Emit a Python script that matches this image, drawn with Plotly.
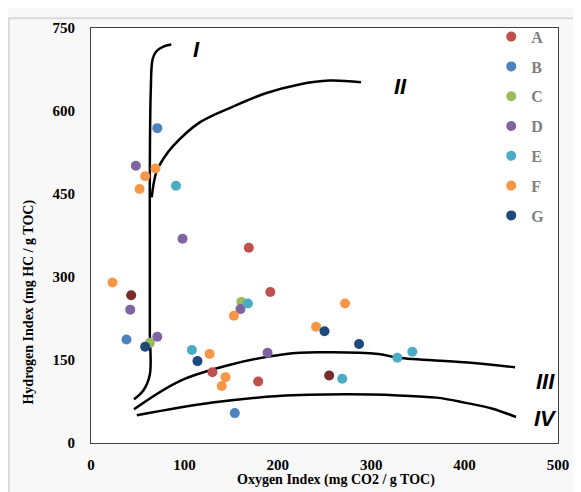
import plotly.graph_objects as go

# ---- data ----
series_names = ["A", "B", "C", "D", "E", "F", "G"]
series_colors = ["#C0504D", "#4F81BD", "#9BBB59", "#8064A2", "#4BACC6", "#F79646", "#1F497D"]

A_oi = [169, 192, 130, 179]
A_hi = [353, 273, 128, 111]
B_oi = [71, 38, 154]
B_hi = [569, 187, 54]
C_oi = [161, 63]
C_hi = [255, 181]
D_oi = [48, 98, 42, 160, 71, 189]
D_hi = [501, 369, 241, 242, 192, 163]
E_oi = [91, 168, 108, 269, 328, 344]
E_hi = [465, 252, 168, 116, 154, 165]
F_oi = [69, 58, 52, 23, 153, 272, 241, 127, 144, 140]
F_hi = [496, 482, 459, 290, 230, 252, 210, 161, 119, 103]
G_oi = [58, 114, 250, 287]
G_hi = [174, 148, 202, 179]
H_oi = [43, 255]          # dark-red points without legend entry
H_hi = [267, 122]

# kerogen type boundary curves
I_oi = [46, 56, 63, 63, 63, 63, 64, 66, 70, 77, 86]
I_hi = [79, 95, 124, 200, 342, 500, 637, 694, 708, 716, 720]
II_oi = [65, 70, 78, 88, 116, 152, 187, 223, 255, 289]
II_hi = [444, 490, 515, 537, 579, 608, 632, 648, 655, 652]
III_oi = [46, 95, 148, 209, 244, 308, 329, 400, 454]
III_hi = [61, 112, 141, 161, 164, 161, 154, 146, 137]
IV_oi = [49, 130, 201, 273, 329, 370, 400, 430, 455]
IV_hi = [50, 73, 85, 88, 86, 82, 73, 62, 47]
curve_labels = ["I", "II", "III", "IV"]
label_oi = [113, 331, 487, 487]
label_hi = [712, 644, 112, 44]

x_ticks = [0, 100, 200, 300, 400, 500]
y_ticks = [0, 150, 300, 450, 600, 750]

fig = go.Figure()

for xs, ys in [(I_oi, I_hi), (II_oi, II_hi), (III_oi, III_hi), (IV_oi, IV_hi)]:
    fig.add_trace(go.Scatter(x=xs, y=ys, mode="lines", line=dict(color="black", width=2.5, shape="spline"),
                             showlegend=False, hoverinfo="skip"))

pts = [(A_oi, A_hi), (B_oi, B_hi), (C_oi, C_hi), (D_oi, D_hi), (E_oi, E_hi), (F_oi, F_hi), (G_oi, G_hi)]
for name, col, (xs, ys) in zip(series_names, series_colors, pts):
    fig.add_trace(go.Scatter(x=xs, y=ys, mode="markers", name="<b>" + name + "</b>", legendgroup=name,
                             marker=dict(color=col, size=10, line=dict(width=0))))
fig.add_trace(go.Scatter(x=H_oi, y=H_hi, mode="markers", showlegend=False,
                         marker=dict(color="#772C2A", size=10, line=dict(width=0))))

for t, xv, yv in zip(curve_labels, label_oi, label_hi):
    fig.add_annotation(x=xv, y=yv, text="<b><i>" + t + "</i></b>", showarrow=False,
                       font=dict(family="Liberation Sans", size=22, color="black"))

fig.add_annotation(xref="paper", yref="paper", x=-0.155, y=0.34, text="<b>Hydrogen Index (mg HC / g TOC)</b>",
                   textangle=-90, showarrow=False, font=dict(family="Liberation Serif", size=14, color="black"))
fig.add_annotation(xref="paper", yref="paper", x=0.525, y=-0.09, yanchor="middle",
                   text="<b>Oxygen Index (mg CO2 / g TOC)</b>",
                   showarrow=False, font=dict(family="Liberation Serif", size=14, color="black"))

# outer chart-area frame
fig.add_shape(type="rect", xref="paper", yref="paper", x0=-0.176, x1=1.3, y0=-0.3, y1=1.0236,
              line=dict(color="#D9D9D9", width=2), layer="below")

axis_font = dict(family="Liberation Serif", size=15, color="black")
fig.update_xaxes(range=[0, 500], tickvals=x_ticks, ticktext=["<b>%d</b>" % v for v in x_ticks],
                 showgrid=False, zeroline=False, showline=True, mirror=True, linecolor="#404040",
                 linewidth=1, ticks="", tickfont=axis_font, ticklabelstandoff=8)
fig.update_yaxes(range=[0, 750], tickvals=y_ticks, ticktext=["<b>%d</b>" % v for v in y_ticks],
                 showgrid=False, zeroline=False, showline=True, mirror=True, linecolor="#404040",
                 linewidth=1, ticks="", tickfont=axis_font, ticklabelstandoff=12)

fig.update_layout(
    width=573, height=484,
    margin=dict(l=83, r=21, t=12, b=49),
    paper_bgcolor="#F8F8F8", plot_bgcolor="white",
    legend=dict(x=0.857, y=1.02, xanchor="left", yanchor="top", bgcolor="rgba(0,0,0,0)",
                tracegroupgap=6, itemwidth=30,
                font=dict(family="Liberation Serif", size=16, color="#808080")),
)

fig.write_html("out.html")
